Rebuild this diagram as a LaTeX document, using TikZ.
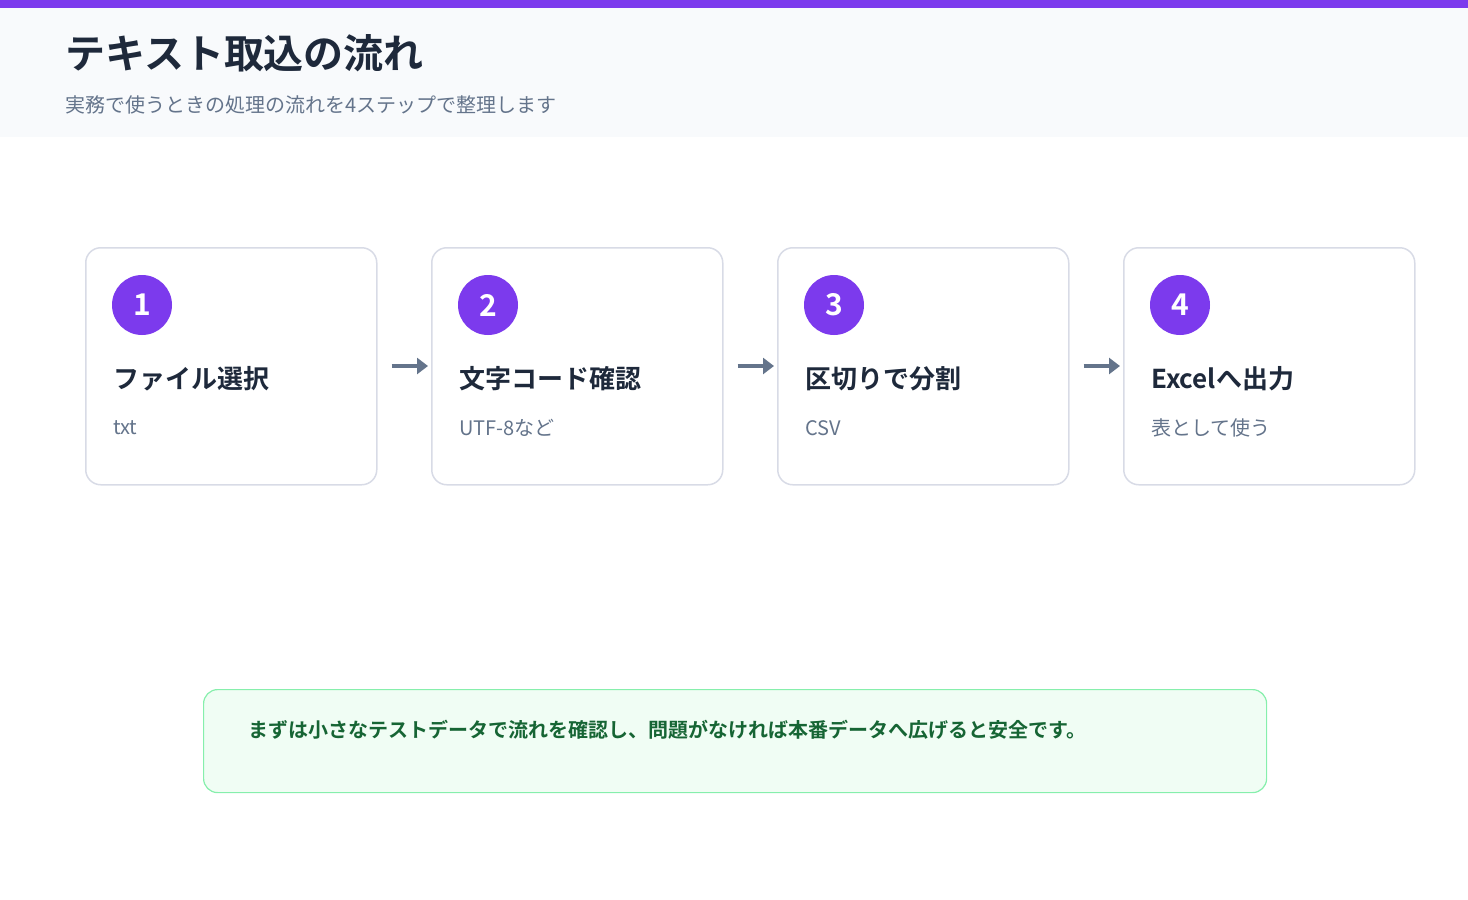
\documentclass[tikz,border=0pt]{standalone}
\usepackage{fontspec}
\setmainfont{Noto Sans CJK JP}[BoldFont={* Bold}]
\usetikzlibrary{arrows.meta}
\definecolor{purp}{HTML}{7C3AED}
\definecolor{navy}{HTML}{1E293B}
\definecolor{slate}{HTML}{64748B}
\definecolor{hdr}{HTML}{F8FAFC}
\definecolor{cardb}{HTML}{D8DBE6}
\definecolor{notef}{HTML}{F0FDF4}
\definecolor{noteb}{HTML}{86EFAC}
\definecolor{notet}{HTML}{166534}
\begin{document}
\begin{tikzpicture}[x=1pt,y=-1pt,
 card/.style={draw=cardb,line width=1.5pt,rounded corners=15pt,fill=white,minimum width=291pt,minimum height=237pt,anchor=north west},
 num/.style={circle,fill=purp,minimum size=60pt,inner sep=0pt,text=white,font=\bfseries\fontsize{30}{30}\selectfont},
 ctitle/.style={anchor=west,inner sep=0pt,text=navy,font=\bfseries\fontsize{26}{26}\selectfont},
 csub/.style={anchor=west,inner sep=0pt,text=slate,font=\fontsize{20}{20}\selectfont},
 flow/.style={draw=slate,line width=4.5pt,-{Triangle[length=11pt,width=16pt]},shorten <=14pt,shorten >=3pt}]
\useasboundingbox (0,0) rectangle (1468,900);
\fill[hdr] (0,0) rectangle (1468,137);
\fill[purp] (0,0) rectangle (1468,8);
\node[anchor=west,inner sep=0pt,text=navy,font=\bfseries\fontsize{40}{40}\selectfont] (title) at (65,53) {テキスト取込の流れ};
\node[anchor=west,inner sep=0pt,text=slate,font=\fontsize{20}{20}\selectfont] (subtitle) at (65,105) {実務で使うときの処理の流れを4ステップで整理します};
\foreach \i/\x/\t/\s in {1/85/ファイル選択/txt/logを指定, 2/431/文字コード確認/UTF-8など, 3/777/区切りで分割/CSV/TSVに対応, 4/1123/Excelへ出力/表として使う}{
 \node[card] (c\i) at (\x,247) {};
 \node[num] (n\i) at (\x+57,305) {\i};
 \node[ctitle] (t\i) at (\x+28,379) {\t};
 \node[csub] (s\i) at (\x+28,428) {\s};
}
\foreach \a/\b in {1/2,2/3,3/4}{
 \draw[flow] (c\a.east |- 0,366) -- (c\b.west |- 0,366);
}
\node[draw=noteb,line width=1.2pt,fill=notef,rounded corners=14pt,minimum width=1063pt,minimum height=103pt,anchor=north west] (note) at (203,689) {};
\node[anchor=west,inner sep=0pt,text=notet,font=\bfseries\fontsize{20}{20}\selectfont] (notetext) at (248,730) {まずは小さなテストデータで流れを確認し、問題がなければ本番データへ広げると安全です。};
\end{tikzpicture}
\end{document}
